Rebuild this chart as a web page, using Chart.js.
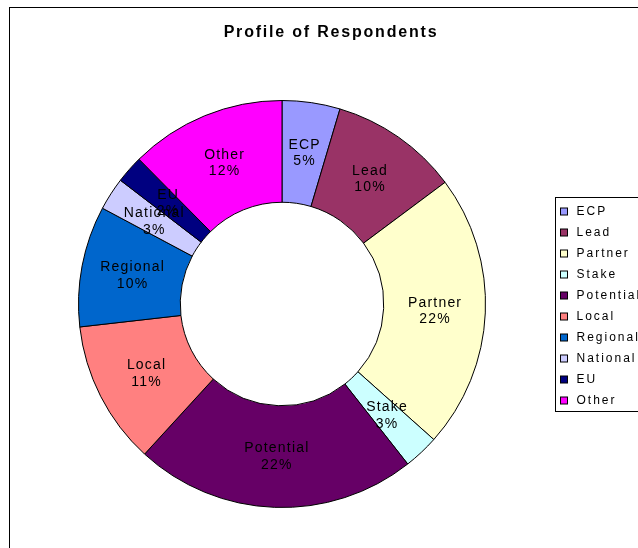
<!DOCTYPE html>
<html>
<head>
<meta charset="utf-8">
<script src="https://cdn.jsdelivr.net/npm/chart.js@4.4.1/dist/chart.umd.min.js"></script>
<style>
  html, body { margin: 0; padding: 0; background: #fff; overflow: hidden; }
  #wrap { position: relative; width: 638px; height: 548px; }
  #frame { position: absolute; left: 9px; top: 7px; width: 700px; height: 600px; border: 1px solid #000; box-sizing: border-box; }
  canvas { position: absolute; left: 0; top: 0; }
</style>
</head>
<body>
<div id="wrap">
  <div id="frame"></div>
  <canvas id="c" width="638" height="548"></canvas>
</div>
<script>
const title = "Profile of Respondents";
const categories = ["ECP", "Lead", "Partner", "Stake", "Potential", "Local", "Regional", "National", "EU", "Other"];
// share of respondents (%)
const values = [4.6, 10.2, 21.8, 2.8, 22.4, 11.4, 9.6, 2.6, 2.2, 12.4];
const colors = ["#9999FF", "#993366", "#FFFFCC", "#CCFFFF", "#660066", "#FF8080", "#0066CC", "#CCCCFF", "#000080", "#FF00FF"];

const FONT = "'Liberation Sans', Arial, sans-serif";

const overlay = {
  id: 'overlay',
  afterDraw(chart) {
    const ctx = chart.ctx;
    ctx.save();
    // title
    ctx.fillStyle = '#000';
    ctx.font = 'bold 16px ' + FONT;
    ctx.letterSpacing = '1.8px';
    ctx.textAlign = 'center';
    ctx.textBaseline = 'middle';
    ctx.fillText(title, 331, 33);

    // slice labels
    ctx.font = '14px ' + FONT;
    ctx.letterSpacing = '1.2px';
    const meta = chart.getDatasetMeta(0);
    const total = values.reduce((a, b) => a + b, 0);
    meta.data.forEach((arc, i) => {
      const p = arc.tooltipPosition();
      const pct = Math.round(values[i] / total * 100) + '%';
      ctx.fillText(categories[i], p.x + 0.6, p.y - 8);
      ctx.fillText(pct, p.x + 0.6, p.y + 8.5);
    });

    // legend
    const step = 21;
    ctx.strokeStyle = '#000';
    ctx.lineWidth = 1;
    ctx.strokeRect(555.5, 197.5, 200, 214);
    ctx.textAlign = 'left';
    ctx.font = '12px ' + FONT;
    ctx.letterSpacing = '2px';
    categories.forEach((c, i) => {
      const cy = 211.5 + i * step;
      ctx.fillStyle = colors[i];
      ctx.fillRect(560.5, cy - 3.5, 7, 7);
      ctx.strokeRect(560.5, cy - 3.5, 7, 7);
      ctx.fillStyle = '#000';
      ctx.fillText(c, 576.5, cy);
    });
    ctx.restore();
  }
};

new Chart(document.getElementById('c'), {
  type: 'doughnut',
  data: {
    labels: categories,
    datasets: [{
      data: values,
      backgroundColor: colors,
      borderColor: '#000',
      borderWidth: 1,
      hoverOffset: 0
    }]
  },
  options: {
    responsive: false,
    animation: false,
    cutout: '50%',
    layout: { padding: { left: 78, right: 152, top: 100, bottom: 40 } },
    plugins: {
      legend: { display: false },
      title: { display: false },
      tooltip: { enabled: false }
    }
  },
  plugins: [overlay]
});
</script>
</body>
</html>
